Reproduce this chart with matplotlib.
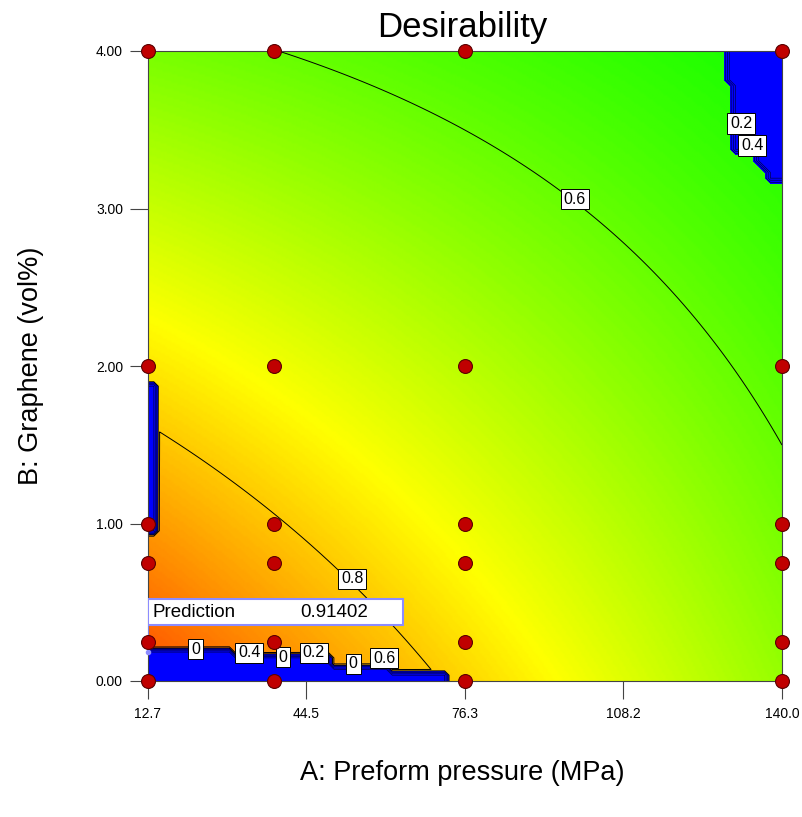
"""Desirability contour map, preform pressure vs graphene content (Design-Expert style)."""
import numpy as np
import matplotlib
matplotlib.use("Agg")
import matplotlib.pyplot as plt
from matplotlib.colors import LinearSegmentedColormap
from matplotlib.patches import Rectangle
from matplotlib.path import Path

plt.rcParams["font.family"] = ["Liberation Sans", "DejaVu Sans"]

# design runs: A = preform pressure (MPa), B = graphene (vol%)
RUN_A = [12.7, 12.7, 12.7, 12.7, 12.7, 12.7,
         38.0, 38.0, 38.0, 38.0, 38.0, 38.0,
         76.35, 76.35, 76.35, 76.35, 76.35, 76.35,
         140.0, 140.0, 140.0, 140.0, 140.0, 140.0]
RUN_B = [0.0, 0.25, 0.75, 1.0, 2.0, 4.0,
         0.0, 0.25, 0.75, 1.0, 2.0, 4.0,
         0.0, 0.25, 0.75, 1.0, 2.0, 4.0,
         0.0, 0.25, 0.75, 1.0, 2.0, 4.0]

# desirability: contour crossings (weight 4), colour samples (weight 1)
READ_A = [12.7, 33.2, 53.7, 68.9, 38.2, 67.3, 98.5, 123.5, 140.0,
          12.7, 140.0, 140.0, 12.7, 76.3, 12.7, 83.4, 107.5]
READ_B = [1.64, 1.12, 0.64, 0.03, 4.0, 3.63, 3.05, 2.23, 1.47,
          4.0, 4.0, 0.0, 2.23, 2.0, 0.184, 0.0, 0.51]
READ_D = [0.8, 0.8, 0.8, 0.8, 0.6, 0.6, 0.6, 0.6, 0.6,
          0.62, 0.52, 0.65, 0.75, 0.70, 0.914, 0.78, 0.70]
READ_W = [4, 4, 4, 4, 4, 4, 4, 4, 4,
          1, 1, 1, 1, 1, 2, 1, 1]

# outlines of the zero-desirability (blue) areas
ZERO_TOP_A = [128.6, 128.6, 130.2, 130.2, 134.6, 134.6, 136.2, 136.2, 137.6, 137.6, 141.0, 141.0]
ZERO_TOP_B = [4.1, 3.80, 3.80, 3.36, 3.36, 3.29, 3.29, 3.24, 3.24, 3.19, 3.19, 4.1]
ZERO_BOT_A = [11.0, 11.0, 30.2, 30.2, 49.2, 49.2, 60.9, 60.9, 72.9, 72.9]
ZERO_BOT_B = [-0.1, 0.19, 0.19, 0.15, 0.15, 0.095, 0.095, 0.05, 0.05, -0.1]
ZERO_LEFT_A = [11.0, 14.6, 14.6, 11.0]
ZERO_LEFT_B = [0.94, 0.94, 1.89, 1.89]

PRED_A, PRED_B, PRED_D = 12.7, 0.184, 0.91402

XTICKS = [12.7, 44.525, 76.35, 108.175, 140.0]
XTICK_LABELS = ["12.7", "44.5", "76.3", "108.2", "140.0"]
YTICKS = [0, 1, 2, 3, 4]
YTICK_LABELS = ["0.00", "1.00", "2.00", "3.00", "4.00"]


def terms(a, b):
    a = (np.asarray(a, float) - 76.35) / 63.65
    b = (np.asarray(b, float) - 2.0) / 2.0
    return np.stack([np.ones_like(a), a, b, a * b, a * a, b * b], axis=-1)


w = np.sqrt(np.array(READ_W, float))
coef, *_ = np.linalg.lstsq(terms(READ_A, READ_B) * w[:, None],
                           np.array(READ_D) * w, rcond=None)
zones = [(ZERO_TOP_A, ZERO_TOP_B), (ZERO_BOT_A, ZERO_BOT_B), (ZERO_LEFT_A, ZERO_LEFT_B)]


def surface(n, masked):
    A, B = np.meshgrid(np.linspace(12.7, 140.0, n), np.linspace(0.0, 4.0, n))
    D = terms(A, B) @ coef
    if masked:
        pts = np.column_stack([A.ravel(), B.ravel()])
        for xs, ys in zones:
            inside = Path(np.column_stack([xs, ys])).contains_points(pts).reshape(A.shape)
            D[inside] = 0.0
    return A, B, np.clip(D, 0, 1)


cmap = LinearSegmentedColormap.from_list(
    "dx", ["#0000ff", "#00ffff", "#00ff00", "#ffff00", "#ff0000"])

fig = plt.figure(figsize=(8.03, 8.17), dpi=100)
ax = fig.add_axes([148 / 803, 1 - 681 / 817, 634 / 803, 630 / 817])

_, _, Dsmooth = surface(300, masked=False)
ax.imshow(Dsmooth, origin="lower", extent=[12.7, 140.0, 0, 4], aspect="auto",
          cmap=cmap, vmin=0, vmax=1, interpolation="bilinear")
Ac, Bc, Dc = surface(110, masked=True)
ax.contourf(Ac, Bc, Dc, levels=[-1, 0.5], colors=["#0000ff"])
ax.contour(Ac, Bc, Dc, levels=[0.001, 0.2, 0.4, 0.6, 0.8],
           colors=["#000050", "#000050", "#000050", "black", "black"],
           linewidths=[0.5, 0.5, 0.5, 0.7, 0.7])

box = dict(boxstyle="square,pad=0.18", fc="white", ec="black", lw=0.7)
for tx, ty, s in [(98.4, 3.06, "0.6"), (53.7, 0.648, "0.8"), (131.8, 3.54, "0.2"),
                  (134.0, 3.40, "0.4"), (22.3, 0.203, "0"), (33.0, 0.178, "0.4"),
                  (39.8, 0.152, "0"), (46.0, 0.178, "0.2"), (53.9, 0.108, "0"),
                  (60.1, 0.146, "0.6")]:
    ax.text(tx, ty, s, ha="center", va="center", fontsize=11.5, bbox=box, zorder=4)

# prediction flag
flag = "#8c8cff"
ax.plot([PRED_A, PRED_A], [PRED_B, 0.356], color=flag, lw=1.2, zorder=4)
ax.plot([PRED_A], [PRED_B], "o", ms=3, color=flag, zorder=4, clip_on=False)
ax.add_patch(Rectangle((12.7, 0.356), 51.2, 0.164, fc="white", ec=flag, lw=1.5, zorder=4))
ax.text(13.7, 0.438, "Prediction", ha="left", va="center", fontsize=13.5, zorder=5)
ax.text(43.2, 0.438, f"{PRED_D:.5f}", ha="left", va="center", fontsize=13.5, zorder=5)

ax.plot(RUN_A, RUN_B, "o", ms=10, mfc="#c00000", mec="#5a0000", mew=0.8,
        clip_on=False, zorder=6)

ax.set_xlim(12.7, 140.0)
ax.set_ylim(0, 4)
ax.set_xticks(XTICKS, XTICK_LABELS)
ax.set_yticks(YTICKS, YTICK_LABELS)
ax.tick_params(direction="out", length=13, width=0.8, color="#444444", labelsize=10)
ax.tick_params(axis="x", pad=6)
ax.tick_params(axis="y", pad=5)
for sp in ax.spines.values():
    sp.set_color("#444444")
    sp.set_linewidth(0.8)

fig.text(462 / 803, 1 - 28 / 817, "Desirability", ha="center", va="center", fontsize=25)
fig.text(462 / 803, 1 - 773 / 817, "A: Preform pressure (MPa)", ha="center", va="center",
         fontsize=19.5)
fig.text(31 / 803, 1 - 366 / 817, "B: Graphene (vol%)", ha="center", va="center",
         rotation=90, fontsize=19.5)

fig.savefig("out.png", dpi=100)
